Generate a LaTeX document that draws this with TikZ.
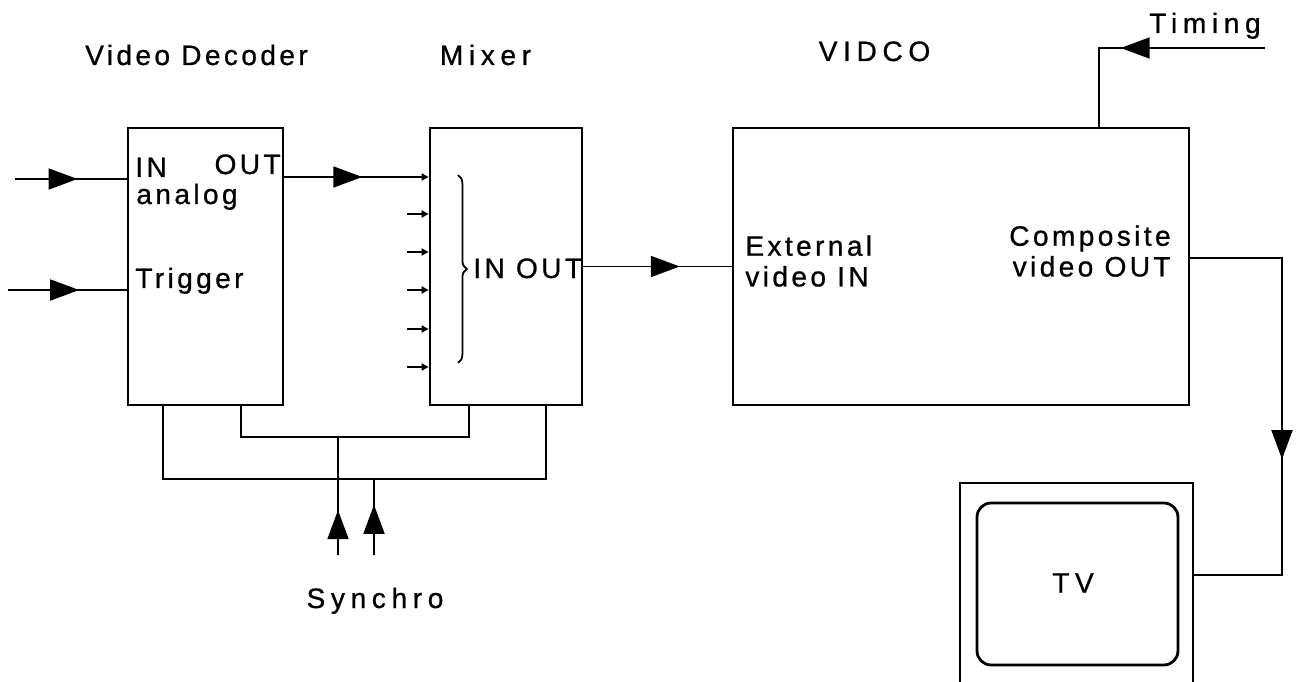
\documentclass[tikz,border=0pt]{standalone}
\usepackage{fontspec}
\setmainfont{Liberation Sans}
\newfontfamily\lblfont[LetterSpace=12,FakeBold=0.8]{Liberation Sans}
\newfontfamily\ttlfont[LetterSpace=20,FakeBold=0.8]{Liberation Sans}
\usetikzlibrary{arrows.meta,decorations.markings,decorations.pathreplacing}

\begin{document}
\begin{tikzpicture}[x=0.02cm, y=-0.02cm,
  block/.style={draw, rectangle, line width=1.6pt, inner sep=0pt},
  wire/.style={line width=1pt},
  lbl/.style={inner sep=0pt, font=\lblfont\fontsize{16}{17.5}\selectfont},
  ttl/.style={inner sep=0pt, font=\ttlfont\fontsize{16}{17.5}\selectfont},
  midarrow/.style={wire, postaction={decorate}, decoration={markings,
    mark=at position #1 with {\arrow{Triangle[length=0.58cm,width=0.42cm]}}}},
  tick/.style={wire, -{Triangle[length=4pt,width=4pt]}}
]
\useasboundingbox (0,0) rectangle (1305,682);
\clip (0,0) rectangle (1305,682);

% blocks
\node[block, minimum width=3.1cm, minimum height=5.54cm] (dec) at (205.5,266.5) {};
\node[block, minimum width=3.04cm, minimum height=5.54cm] (mix) at (506,266.5) {};
\node[block, minimum width=9.12cm, minimum height=5.54cm] (vidco) at (961,266.5) {};
\node[block, minimum width=4.66cm, minimum height=4.74cm] (tv) at (1076.5,601.5) {};
\node[block, rounded corners=8pt, minimum width=4.02cm, minimum height=3.24cm] (screen) at (1077.5,584) {};
\node[ttl] (tvl) at (1073,583) {TV};

% titles
\node[lbl, anchor=base] (tdec) at (196.5,65) {Video Decoder};
\node[ttl, anchor=base] (tmix) at (485.5,65) {Mixer};
\node[ttl, anchor=base] (tvid) at (874.5,61) {VIDCO};
\node[ttl, anchor=base] (ttim) at (1205,33) {Timing};
\node[ttl, anchor=base] (tsyn) at (375,608) {Synchro};

% labels inside the blocks
\node[lbl, anchor=base west] (din) at (135,177) {IN};
\node[lbl, anchor=base east] (dout) at (281,174) {OUT};
\node[lbl, anchor=base west] (dana) at (136,204) {analog};
\node[lbl, anchor=base west] (dtrig) at (135,288) {Trigger};
\node[lbl, anchor=base west] (mio) at (473,278) {IN OUT};
\node[lbl, anchor=north west, align=left] (vin) at (745,235) {External\\video IN};
\node[lbl, anchor=north east, align=right] (vout) at (1171,225) {Composite\\video OUT};

% free ends
\coordinate (ina) at (15,179);
\coordinate (intr) at (8,290);
\coordinate (tim) at (1265,48);
\coordinate (tcorner) at (1099,48);
\coordinate (cbend) at (1282,258);
\coordinate (tbend) at (1282,575);
\coordinate (sa) at (338,555);
\coordinate (sb) at (374,555);

\draw[midarrow=0.56] (ina) -- (ina -| dec.west);
\draw[midarrow=0.6] (intr) -- (intr -| dec.west);
\draw[midarrow=0.54, tick] (dec.east |- 0,177) -- (mix.west |- 0,177);
\foreach \y in {214,252,290,329,367}
  \draw[tick] (407,\y) -- (mix.west |- 0,\y);
\draw[wire, decorate, decoration={brace, amplitude=5pt}] (458,175) -- (458,363);
\draw[midarrow=0.65] (mix.east) -- (vidco.west);
\draw[midarrow=0.59] (tim) -- (tcorner) -- (tcorner |- vidco.north);
\draw[midarrow=0.59] (vidco.east |- cbend) -- (cbend) -- (tbend) -- (tbend -| tv.east);

% synchro bus
\draw[wire] (163,0 |- dec.south) -- (163,479) -- (546,479) -- (546,0 |- mix.south);
\draw[wire] (241,0 |- dec.south) -- (241,437) -- (469,437) -- (469,0 |- mix.south);
\draw[midarrow=0.38] (sa) -- (sa |- 0,437);
\draw[midarrow=0.66] (sb) -- (sb |- 0,479);
\end{tikzpicture}
\end{document}
